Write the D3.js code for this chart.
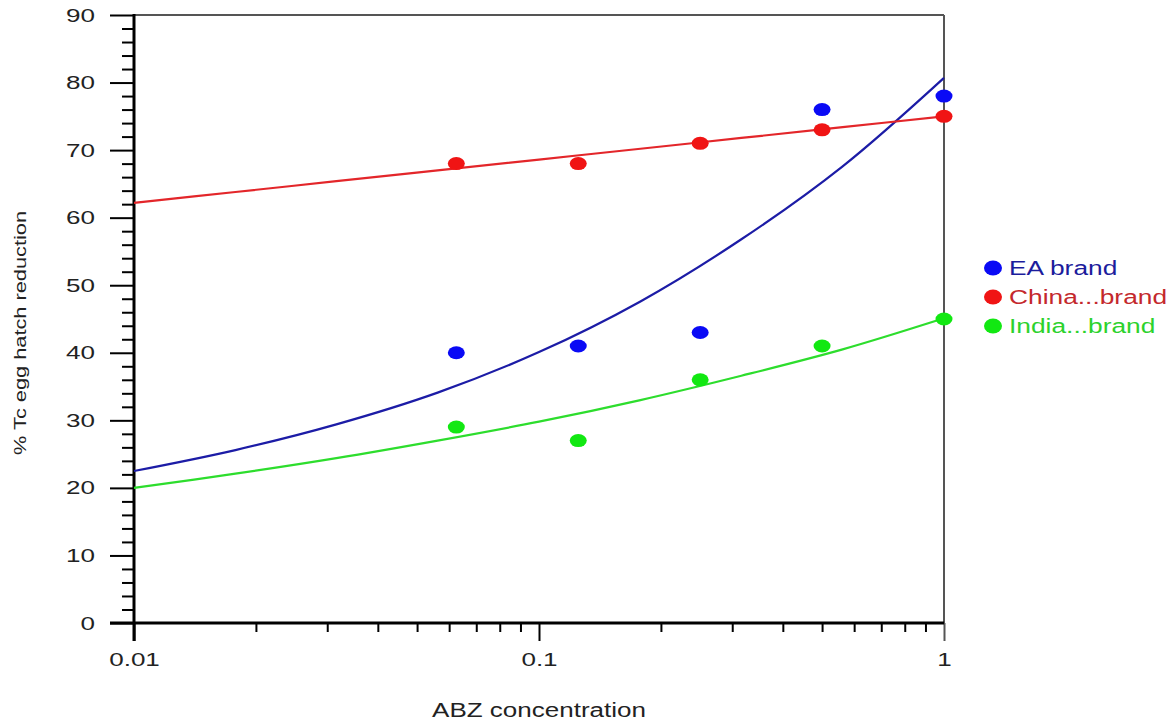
<!DOCTYPE html>
<html>
<head>
<meta charset="utf-8">
<script src="https://cdn.jsdelivr.net/npm/d3@7"></script>
<style>
  body { margin: 0; background: #fff; }
  text { font-family: "Liberation Sans", Arial, sans-serif; }
</style>
</head>
<body>
<div id="canvas"></div>
<script>
// -------------------------------------------- Data
const concentrations = [0.0625, 0.125, 0.25, 0.5, 1];
const eaValues = [40, 41, 43, 76, 78];
const chinaValues = [68, 68, 71, 73, 75];
const indiaValues = [29, 27, 36, 41, 45];

// fitted curves, values
const fitX = [0.01, 0.0178, 0.0316, 0.0562, 0.1, 0.178, 0.316, 0.562, 1];
const eaFitY = [22.5, 25.6, 29.4, 34.1, 40.1, 47.6, 56.8, 67.6, 80.7];
const chinaFitY = [62.2, 63.8, 65.4, 67.0, 68.6, 70.2, 71.8, 73.4, 75.0];
const indiaFitY = [20.0, 22.1, 24.4, 27.0, 29.8, 33.0, 36.6, 40.5, 45.1];

const seriesNames = ["EA brand", "China...brand", "India...brand"];
const xTickValues = [0.01, 0.1, 1];
const yTickValues = [0, 10, 20, 30, 40, 50, 60, 70, 80, 90];

// -------------------------------------------- Dimensiones
const width = 1174;
const height = 723;
const margin = { top: 15, left: 134, bottom: 100, right: 230 };
const iwidth = 944 - margin.left;
const iheight = 623 - margin.top;

const svg = d3.select("#canvas").append("svg")
  .attr("width", width)
  .attr("height", height);

const g = svg.append("g")
  .attr("transform", `translate(${margin.left},${margin.top})`);

const x = d3.scaleLog().domain([0.01, 1]).range([0, iwidth]);
const y = d3.scaleLinear().domain([0, 90]).range([iheight, 0]);

// the lettering in the picture is wide, so stretch it
function widen(sel, k) {
  sel.each(function () {
    const w = this.getComputedTextLength();
    d3.select(this)
      .attr("textLength", w * k)
      .attr("lengthAdjust", "spacingAndGlyphs");
  });
}

// ----- Marco (top / right)
g.append("line")
  .attr("x1", 0).attr("x2", iwidth).attr("y1", 0).attr("y2", 0)
  .attr("stroke", "#555").attr("stroke-width", 2);
g.append("line")
  .attr("x1", iwidth).attr("x2", iwidth).attr("y1", 0).attr("y2", iheight)
  .attr("stroke", "#555").attr("stroke-width", 2);

// ----- Eje Y
const yMinor = d3.range(0, 91, 2).filter((v) => v % 10 !== 0);
g.append("g")
  .call(d3.axisLeft(y).tickValues(yMinor).tickSize(12).tickFormat(""))
  .call((a) => a.select(".domain").remove())
  .call((a) => a.selectAll("line").attr("stroke", "#000").attr("stroke-width", 2));

const yAxis = g.append("g")
  .call(d3.axisLeft(y).tickValues(yTickValues).tickSize(24).tickPadding(15));
yAxis.select(".domain").remove();
yAxis.selectAll("line").attr("stroke", "#000").attr("stroke-width", 2);
yAxis.selectAll("text")
  .attr("fill", "#222").style("font-size", "19px")
  .call(widen, 1.37);

g.append("line")
  .attr("x1", 0).attr("x2", 0).attr("y1", -1).attr("y2", iheight + 18)
  .attr("stroke", "#000").attr("stroke-width", 3);

// ----- Eje X
const xMinor = [];
[0.01, 0.1].forEach((d) => {
  for (let k = 2; k <= 9; k++) xMinor.push(d * k);
});
g.append("g")
  .attr("transform", `translate(0,${iheight})`)
  .call(d3.axisBottom(x).tickValues(xMinor).tickSize(9).tickFormat(""))
  .call((a) => a.select(".domain").remove())
  .call((a) => a.selectAll("line").attr("stroke", "#000").attr("stroke-width", 2));

const xAxis = g.append("g")
  .attr("transform", `translate(0,${iheight})`)
  .call(d3.axisBottom(x).tickValues(xTickValues).tickSize(18).tickPadding(12)
    .tickFormat(d3.format("~g")));
xAxis.select(".domain").remove();
xAxis.selectAll("line").attr("stroke", "#000").attr("stroke-width", 2);
xAxis.select(".tick:last-of-type line").attr("stroke", "#555");
xAxis.selectAll("text").attr("fill", "#222").style("font-size", "19px")
  .call(widen, 1.37);

g.append("line")
  .attr("x1", -24).attr("x2", iwidth).attr("y1", iheight).attr("y2", iheight)
  .attr("stroke", "#000").attr("stroke-width", 3);

// ----- Titulos de ejes
svg.append("text")
  .attr("x", 539).attr("y", 717)
  .attr("text-anchor", "middle")
  .attr("fill", "#222")
  .style("font-size", "20px")
  .text("ABZ concentration")
  .call(widen, 1.3);

svg.append("text")
  .attr("transform", "translate(26,333) rotate(-90)")
  .attr("text-anchor", "middle")
  .attr("fill", "#222")
  .style("font-size", "16px")
  .text("% Tc egg hatch reduction")
  .call(widen, 1.36);

// ----- Curvas
const fits = [
  { ys: eaFitY, color: "#1c1ca6" },
  { ys: chinaFitY, color: "#e3262a" },
  { ys: indiaFitY, color: "#2ddd2d" },
];
const line = d3.line()
  .x((d) => x(d[0]))
  .y((d) => y(d[1]))
  .curve(d3.curveCatmullRom);

fits.forEach((f) => {
  g.append("path")
    .datum(fitX.map((v, i) => [v, f.ys[i]]))
    .attr("fill", "none")
    .attr("stroke", f.color)
    .attr("stroke-width", 2.2)
    .attr("d", line);
});

// ----- Puntos
const series = [
  { values: eaValues, color: "#0a0af5" },
  { values: chinaValues, color: "#f01414" },
  { values: indiaValues, color: "#12e812" },
];
series.forEach((s) => {
  g.selectAll(null)
    .data(concentrations.map((c, i) => [c, s.values[i]]))
    .enter()
    .append("ellipse")
    .attr("cx", (d) => x(d[0]))
    .attr("cy", (d) => y(d[1]))
    .attr("rx", 8.5)
    .attr("ry", 6.5)
    .attr("fill", s.color);
});

// ----- Leyenda
const legendText = ["#1c1c9c", "#c4282c", "#2cd22c"];
const legend = svg.append("g").attr("transform", "translate(993,268)");
seriesNames.forEach((name, i) => {
  legend.append("ellipse")
    .attr("cx", 0).attr("cy", i * 29)
    .attr("rx", 9).attr("ry", 7.5)
    .attr("fill", series[i].color);
  legend.append("text")
    .attr("x", 16).attr("y", i * 29)
    .attr("dy", "0.35em")
    .attr("fill", legendText[i])
    .style("font-size", "19.5px")
    .text(name)
    .call(widen, 1.35);
});
</script>
</body>
</html>
